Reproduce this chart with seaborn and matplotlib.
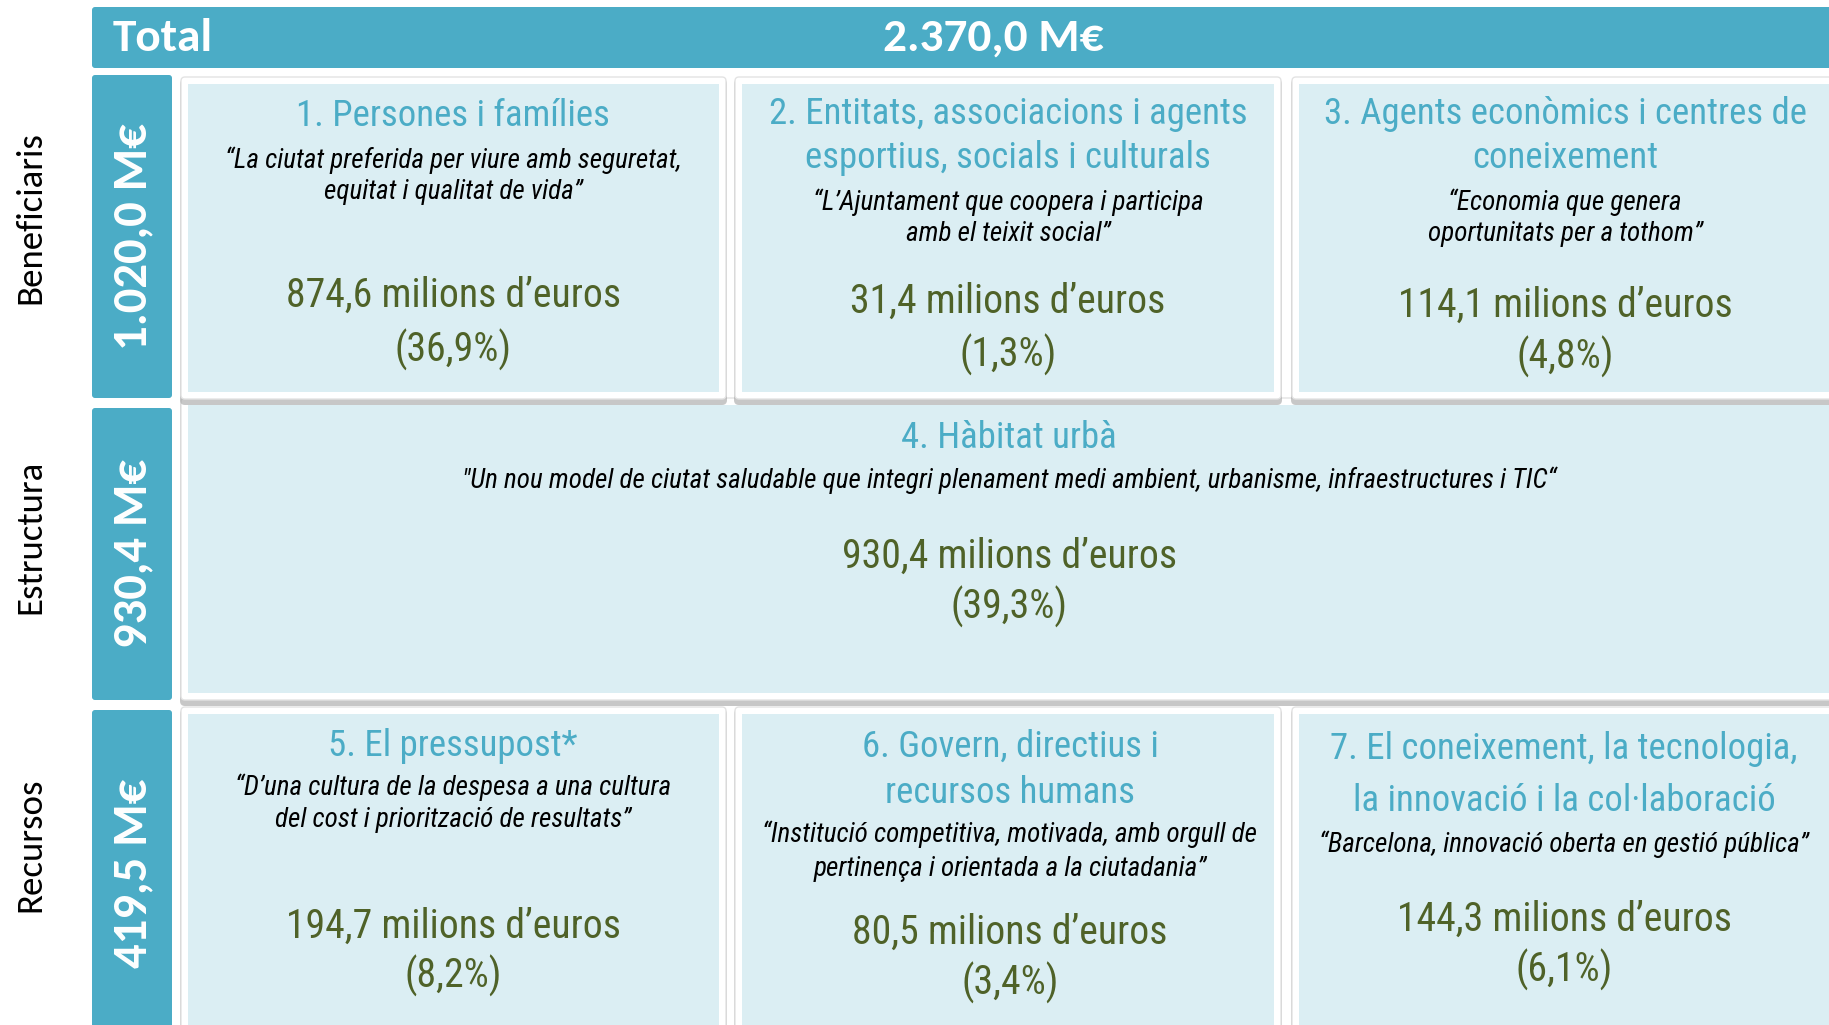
import matplotlib
matplotlib.use("Agg")
import seaborn as sns
from matplotlib import pyplot as plt
from matplotlib.patches import FancyBboxPatch, Rectangle

# dades
total = 2370.0
segments = ["Beneficiaris", "Estructura", "Recursos"]
segment_totals = [1020.0, 930.4, 419.5]
titles = [
    "1. Persones i famílies",
    "2. Entitats, associacions i agents\nesportius, socials i culturals",
    "3. Agents econòmics i centres de\nconeixement",
    "4. Hàbitat urbà",
    "5. El pressupost*",
    "6. Govern, directius i\nrecursos humans",
    "7. El coneixement, la tecnologia,\nla innovació i la col·laboració",
]
quotes = [
    "“La ciutat preferida per viure amb seguretat,\nequitat i qualitat de vida”",
    "“L’Ajuntament que coopera i participa\namb el teixit social”",
    "“Economia que genera\noportunitats per a tothom”",
    "\"Un nou model de ciutat saludable que integri plenament medi ambient, urbanisme, infraestructures i TIC“",
    "“D’una cultura de la despesa a una cultura\ndel cost i priorització de resultats”",
    "“Institució competitiva, motivada, amb orgull de\npertinença i orientada a la ciutadania”",
    "“Barcelona, innovació oberta en gestió pública”",
]
amounts = [874.6, 31.4, 114.1, 930.4, 194.7, 80.5, 144.3]
shares = [36.9, 1.3, 4.8, 39.3, 8.2, 3.4, 6.1]


def cat(v):
    s = f"{v:,.1f}"
    return s.replace(",", "X").replace(".", ",").replace("X", ".")


# colors
TEAL = "#4BACC6"
LIGHT = "#DBEEF3"
GREEN = "#4F6228"

sns.set_theme(style="white")
NARROW = ["Roboto Condensed", "Archivo Narrow", "PT Sans Narrow", "IBM Plex Sans Condensed",
          "DejaVu Sans"]
plt.rcParams["font.family"] = ["Carlito", "Lato", "DejaVu Sans"]

fig = plt.figure(figsize=(18.29, 10.25), dpi=100)
ax = fig.add_axes([0, 0, 1, 1])
ax.set_xlim(0, 1829)
ax.set_ylim(1025, 0)
ax.axis("off")

# capçalera total
ax.add_patch(FancyBboxPatch((92, 7), 1760, 61, boxstyle="round,pad=0,rounding_size=3",
                            fc=TEAL, ec="none"))
ax.text(113, 38, "Total", color="white", fontsize=34, fontweight="bold", va="center", ha="left")
ax.text(993, 38, cat(total) + " M€", color="white", fontsize=34, fontweight="bold",
        va="center", ha="center")

# columna de segments
seg_rows = [(75, 398), (408, 700), (710, 1040)]
label_y = [218, 537, 845]
value_y = [237, 554, 873]
for i, seg in enumerate(segments):
    y0, y1 = seg_rows[i]
    ax.add_patch(FancyBboxPatch((92, y0), 80, y1 - y0, boxstyle="round,pad=0,rounding_size=3",
                                fc=TEAL, ec="none"))
    ax.text(30, label_y[i], seg, rotation=90, fontsize=26.5, color="black",
            ha="center", va="center")
    ax.text(133, value_y[i], cat(segment_totals[i]) + " M€", rotation=90, fontsize=35,
            fontweight="bold", color="white", ha="center", va="center")

# targetes: (x0, x1, y0, y1) exterior; la 4 es dibuixa primer, sota la fila 1
cards = [
    (181, 726, 77, 399), (735, 1281, 77, 399), (1292, 1850, 77, 399),
    (181, 1850, 398, 700),
    (181, 726, 707, 1040), (735, 1281, 707, 1040), (1292, 1850, 707, 1040),
]
order = [3, 0, 1, 2, 4, 5, 6]
centers = [453, 1008, 1565, 1009, 453, 1010, 1564]
title_ys = [[116], [114, 158], [114, 158], [438], [746], [747, 793], [749, 801]]
quote_ys = [[160, 192], [202, 234], [202, 234], [480], [787, 820], [834, 869], [844]]
amount_ys = [295, 301, 305, 556, 926, 932, 919]
share_ys = [350, 355, 357, 607, 976, 983, 970]

for i in order:
    x0, x1, y0, y1 = cards[i]
    # ombra
    ax.add_patch(FancyBboxPatch((x0 - 1, y0 + 2), x1 - x0 + 2, y1 - y0 + 4,
                                boxstyle="round,pad=0,rounding_size=5",
                                fc="#9A9A9A", ec="none", alpha=0.55))
    ax.add_patch(FancyBboxPatch((x0, y0), x1 - x0, y1 - y0,
                                boxstyle="round,pad=0,rounding_size=4",
                                fc="white", ec="#E3E3E3", lw=1))
    ax.add_patch(Rectangle((x0 + 7, y0 + 7), x1 - x0 - 14, y1 - y0 - 14, fc=LIGHT, ec="none"))

for i in range(len(cards)):
    cx = centers[i]
    for line, y in zip(titles[i].split("\n"), title_ys[i]):
        ax.text(cx, y, line, fontsize=26.5, color=TEAL, family=NARROW, ha="center", va="center")
    for line, y in zip(quotes[i].split("\n"), quote_ys[i]):
        ax.text(cx, y, line, fontsize=19.5, color="black", family=NARROW, style="italic",
                ha="center", va="center")
    ax.text(cx, amount_ys[i], cat(amounts[i]) + " milions d’euros", fontsize=28.6, color=GREEN,
            family=NARROW, ha="center", va="center")
    ax.text(cx, share_ys[i], "(" + cat(shares[i]) + "%)", fontsize=28.6, color=GREEN,
            family=NARROW, ha="center", va="center")

fig.savefig("out.png", dpi=100)
